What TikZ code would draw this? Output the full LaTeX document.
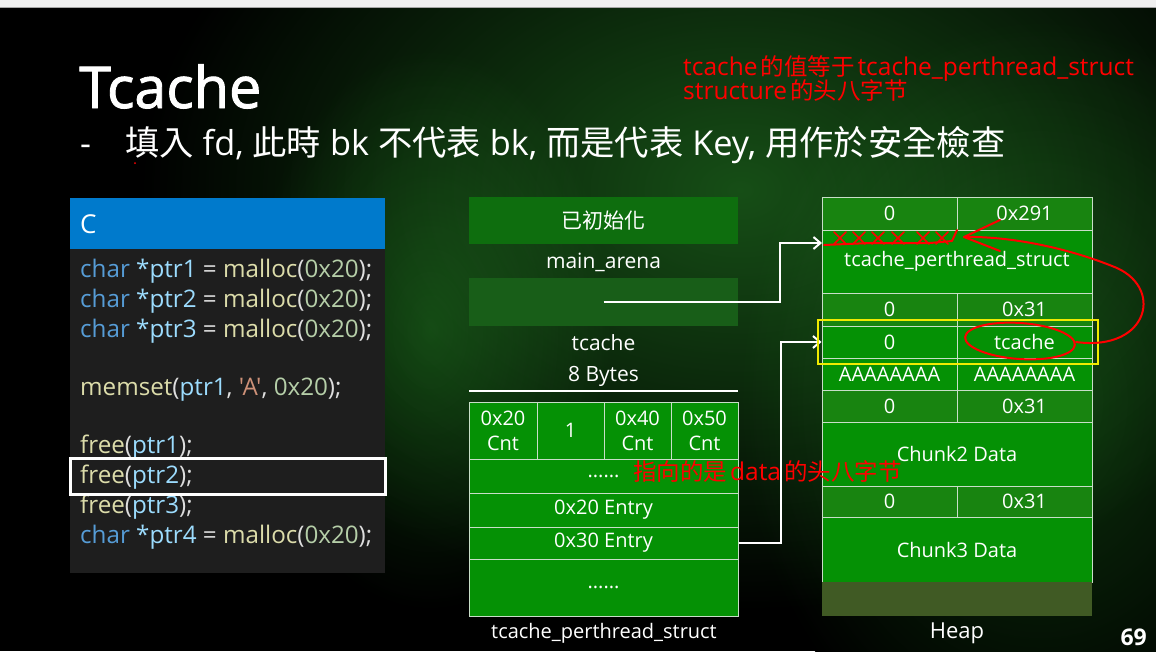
\documentclass[tikz,border=0pt]{standalone}
\usepackage{fontspec}
\setmainfont{Open Sans}
\newfontfamily\titlefont[FakeBold=1.6]{Open Sans}
\newfontfamily\codefont{Open Sans}
\newfontfamily\cjktc{Noto Sans CJK TC}
\newfontfamily\cjksc{Noto Sans CJK SC}
\usetikzlibrary{arrows.meta,calc}

\definecolor{topbar}{RGB}{240,240,240}
\definecolor{codebg}{RGB}{30,30,30}
\definecolor{codehead}{RGB}{0,122,204}
\definecolor{kw}{RGB}{86,156,214}
\definecolor{var}{RGB}{156,220,254}
\definecolor{fn}{RGB}{220,220,170}
\definecolor{num}{RGB}{181,206,168}
\definecolor{str}{RGB}{206,145,120}
\definecolor{plain}{RGB}{222,222,222}
\definecolor{boxdark}{RGB}{14,110,14}
\definecolor{boxmid}{RGB}{24,94,24}
\definecolor{cellfill}{RGB}{5,145,5}
\definecolor{hdrfill}{RGB}{24,132,16}
\definecolor{gridc}{RGB}{200,222,200}
\definecolor{topfill}{RGB}{64,90,36}
\definecolor{redink}{RGB}{255,0,0}
\definecolor{hilite}{RGB}{240,235,0}
\definecolor{glow}{RGB}{22,78,22}
\definecolor{glowb}{RGB}{12,50,12}

% one rectangular cell given by its corners (x1,y1) (x2,y2)
\newcommand\gridcell[7]{%
  \pgfmathsetmacro\gcx{(#2+#4)/2}\pgfmathsetmacro\gcy{(#3+#5)/2}%
  \pgfmathsetmacro\gcw{#4-#2}\pgfmathsetmacro\gch{#5-#3}%
  \node[cell,fill=#6,minimum width=\gcw pt,minimum height=\gch pt] (#1) at (\gcx,\gcy) {#7};}
% Chinese run inside the red notes, with a thin gap on each side
\newcommand\zh[1]{\hspace{3pt}{\cjksc\fontsize{23.5}{27}\selectfont #1}\hspace{3pt}}

\tikzset{
  txt/.style={text=white,inner sep=0pt,font=\fontsize{21}{25}\selectfont},
  cell/.style={draw=gridc,line width=1pt,text=white,inner sep=0pt,align=center,
    font=\fontsize{20}{25}\selectfont},
  codeline/.style={anchor=base west,inner sep=0pt,text=plain,font=\codefont\fontsize{24.2}{28}\selectfont},
  wire/.style={draw=white,line width=2pt,-{Straight Barb[length=7pt,width=12pt,line width=2pt]}},
  redpen/.style={draw=redink,line width=2pt,line cap=round,line join=round},
  rednote/.style={text=redink,inner sep=0pt,anchor=base west,font=\fontsize{24.5}{27}\selectfont},
}

\begin{document}
\begin{tikzpicture}[x=1pt,y=-1pt]
\useasboundingbox (0,0) rectangle (1156,651);

% slide background with a soft green glow
\fill[black] (0,0) rectangle (1156,651);
\begin{scope}[blend mode=screen]
\clip (0,8) rectangle (1156,651);
\shade[inner color=glow,outer color=black] (740,190) ellipse (600 and 420);
\shade[inner color=glowb,outer color=black] (1040,400) ellipse (300 and 380);
\shade[inner color=glowb,outer color=black] (430,330) ellipse (180 and 280);
\end{scope}
\fill[topbar] (0,0) rectangle (1156,7);
\draw[gray!70,line width=0.8pt] (0,7.5) -- (1156,7.5);

% title and subtitle
\node[anchor=base west,inner sep=0pt,text=white,font=\titlefont\fontsize{57.5}{64}\selectfont] (title) at (79,108) {Tcache};
\node[anchor=base west,inner sep=0pt,text=white,font=\fontsize{34}{38}\selectfont] (dash) at (80,155) {-};
\node[anchor=base west,inner sep=0pt,text=white,font=\fontsize{34.3}{38}\selectfont] (sub) at (125,155)
  {{\cjktc 填入} fd, {\cjktc 此時} bk {\cjktc 不代表} bk, {\cjktc 而是代表} Key, {\cjktc 用作於安全檢查}};
\fill[redink] (135,163) circle (1);

% code panel
\node[fill=codehead,inner sep=0pt,minimum width=315pt,minimum height=51pt] (hdr) at (227.5,223) {};
\node[anchor=base west,inner sep=0pt,text=white,font=\fontsize{26}{30}\selectfont] (hdrlabel) at (80,233) {C};
\node[fill=codebg,inner sep=0pt,minimum width=315pt,minimum height=324pt] (codepanel) at (227.5,411) {};
\node[codeline] (l1) at (80,277) {{\color{kw}char} {\color{var}*ptr1} = {\color{fn}malloc}({\color{num}0x20});};
\node[codeline] (l2) at (80,307) {{\color{kw}char} {\color{var}*ptr2} = {\color{fn}malloc}({\color{num}0x20});};
\node[codeline] (l3) at (80,337) {{\color{kw}char} {\color{var}*ptr3} = {\color{fn}malloc}({\color{num}0x20});};
\node[codeline] (l4) at (80,395) {{\color{fn}memset}({\color{var}ptr1}, {\color{str}'A'}, {\color{num}0x20});};
\node[codeline] (l5) at (80,453) {{\color{fn}free}({\color{var}ptr1});};
\node[codeline] (l6) at (80,483) {{\color{fn}free}({\color{var}ptr2});};
\node[codeline] (l7) at (80,513) {{\color{fn}free}({\color{var}ptr3});};
\node[codeline] (l8) at (80,543) {{\color{kw}char} {\color{var}*ptr4} = {\color{fn}malloc}({\color{num}0x20});};
\node[draw=white,line width=3pt,inner sep=0pt,minimum width=315pt,minimum height=36pt] (cur) at (228,476) {};

% main_arena
\node[fill=boxdark,inner sep=0pt,minimum width=269pt,minimum height=47pt,text=white,
  font=\cjktc\fontsize{21}{25}\selectfont] (init) at (603.5,220.5) {已初始化};
\node[txt] (arena) at (603.5,262) {main\_arena};
\node[fill=boxmid,inner sep=0pt,minimum width=269pt,minimum height=48pt] (tcbox) at (603.5,302) {};
\node[txt] (tclabel) at (603.5,343) {tcache};
\node[txt] (tcsize) at (603.5,376) {8 Bytes};
\draw[white,line width=2pt] (469,391) -- (738,391);

% tcache_perthread_struct
\gridcell{c20}{469}{402}{537}{459}{cellfill}{0x20\\Cnt}
\gridcell{c30}{537}{402}{604}{459}{cellfill}{1}
\gridcell{c40}{604}{402}{671}{459}{cellfill}{0x40\\Cnt}
\gridcell{c50}{671}{402}{738}{459}{cellfill}{0x50\\Cnt}
\gridcell{cdots}{469}{459}{738}{493}{cellfill}{......}
\gridcell{e20}{469}{493}{738}{527}{cellfill}{0x20 Entry}
\gridcell{e30}{469}{527}{738}{559}{cellfill}{0x30 Entry}
\gridcell{edots}{469}{559}{738}{616}{cellfill}{......}
\node[txt,font=\fontsize{20}{24}\selectfont] (tpslabel) at (604,633) {tcache\_perthread\_struct};

% heap
\gridcell{h1a}{822}{197}{957}{230}{hdrfill}{0}
\gridcell{h1b}{957}{197}{1092}{230}{hdrfill}{0x291}
\gridcell{h2}{822}{230}{1092}{293}{cellfill}{tcache\_perthread\_struct}
\gridcell{h3a}{822}{293}{957}{326}{hdrfill}{0}
\gridcell{h3b}{957}{293}{1092}{326}{hdrfill}{0x31}
\gridcell{h4a}{822}{326}{957}{358}{cellfill}{0}
\gridcell{h4b}{957}{326}{1092}{358}{cellfill}{tcache}
\gridcell{h5a}{822}{358}{957}{390}{cellfill}{AAAAAAAA}
\gridcell{h5b}{957}{358}{1092}{390}{cellfill}{AAAAAAAA}
\gridcell{h6a}{822}{390}{957}{422}{hdrfill}{0}
\gridcell{h6b}{957}{390}{1092}{422}{hdrfill}{0x31}
\gridcell{h7}{822}{422}{1092}{486}{cellfill}{Chunk2 Data}
\gridcell{h8a}{822}{486}{957}{517}{hdrfill}{0}
\gridcell{h8b}{957}{486}{1092}{517}{hdrfill}{0x31}
\gridcell{h9}{822}{517}{1092}{582}{cellfill}{Chunk3 Data}
\node[fill=topfill,inner sep=0pt,minimum width=270pt,minimum height=34pt] (htop) at (957,599) {};
\node[txt,font=\fontsize{22}{26}\selectfont] (heaplabel) at (957,633) {Heap};
\node[anchor=base east,inner sep=0pt,text=white,font=\bfseries\fontsize{23}{26}\selectfont] (pageno) at (1147,645) {69};

% pointers
\coordinate (tpsbase) at (822,243);
\draw[wire] (tcbox.center) -- ([xshift=42pt]tcbox.east) |- (tpsbase);
\draw[wire] (e30.east) -- ([xshift=42pt]e30.east) |- (h4a.west);

% freed chunk highlight
\node[draw=hilite,line width=2.5pt,inner sep=0pt,minimum width=280pt,minimum height=44pt] (cur2) at (958,342) {};

% red pen annotations
\node[rednote] (note1) at (683,75) {tcache\zh{的值等于}tcache\_perthread\_struct};
\node[rednote] (note2) at (683,99) {structure\zh{的头八字节}};
\node[rednote] (note3) at (633,480) {{\cjksc\fontsize{23.5}{27}\selectfont 指向的是}\hspace{3pt}data\zh{的头八字节}};
\draw[redpen,rotate around={-4:(1020,341)}] (1020,341) ellipse (55 and 18);
\draw[redpen] (1076,342) .. controls (1150,352) and (1165,285) .. (1112,266)
  .. controls (1062,246) and (1005,236) .. (964,237);
\draw[redpen] (1000,220) -- (964,237) -- (1000,251);
\draw[redpen] (824,245) -- (870,243) -- (930,243) -- (952,241) -- (957,230);
\foreach \mx in {840,859,878,898,923,942}
  \draw[redpen,line width=1.6pt] (\mx-6,232) -- (\mx+6,244) (\mx-6,244) -- (\mx+6,232);
\end{tikzpicture}
\end{document}
